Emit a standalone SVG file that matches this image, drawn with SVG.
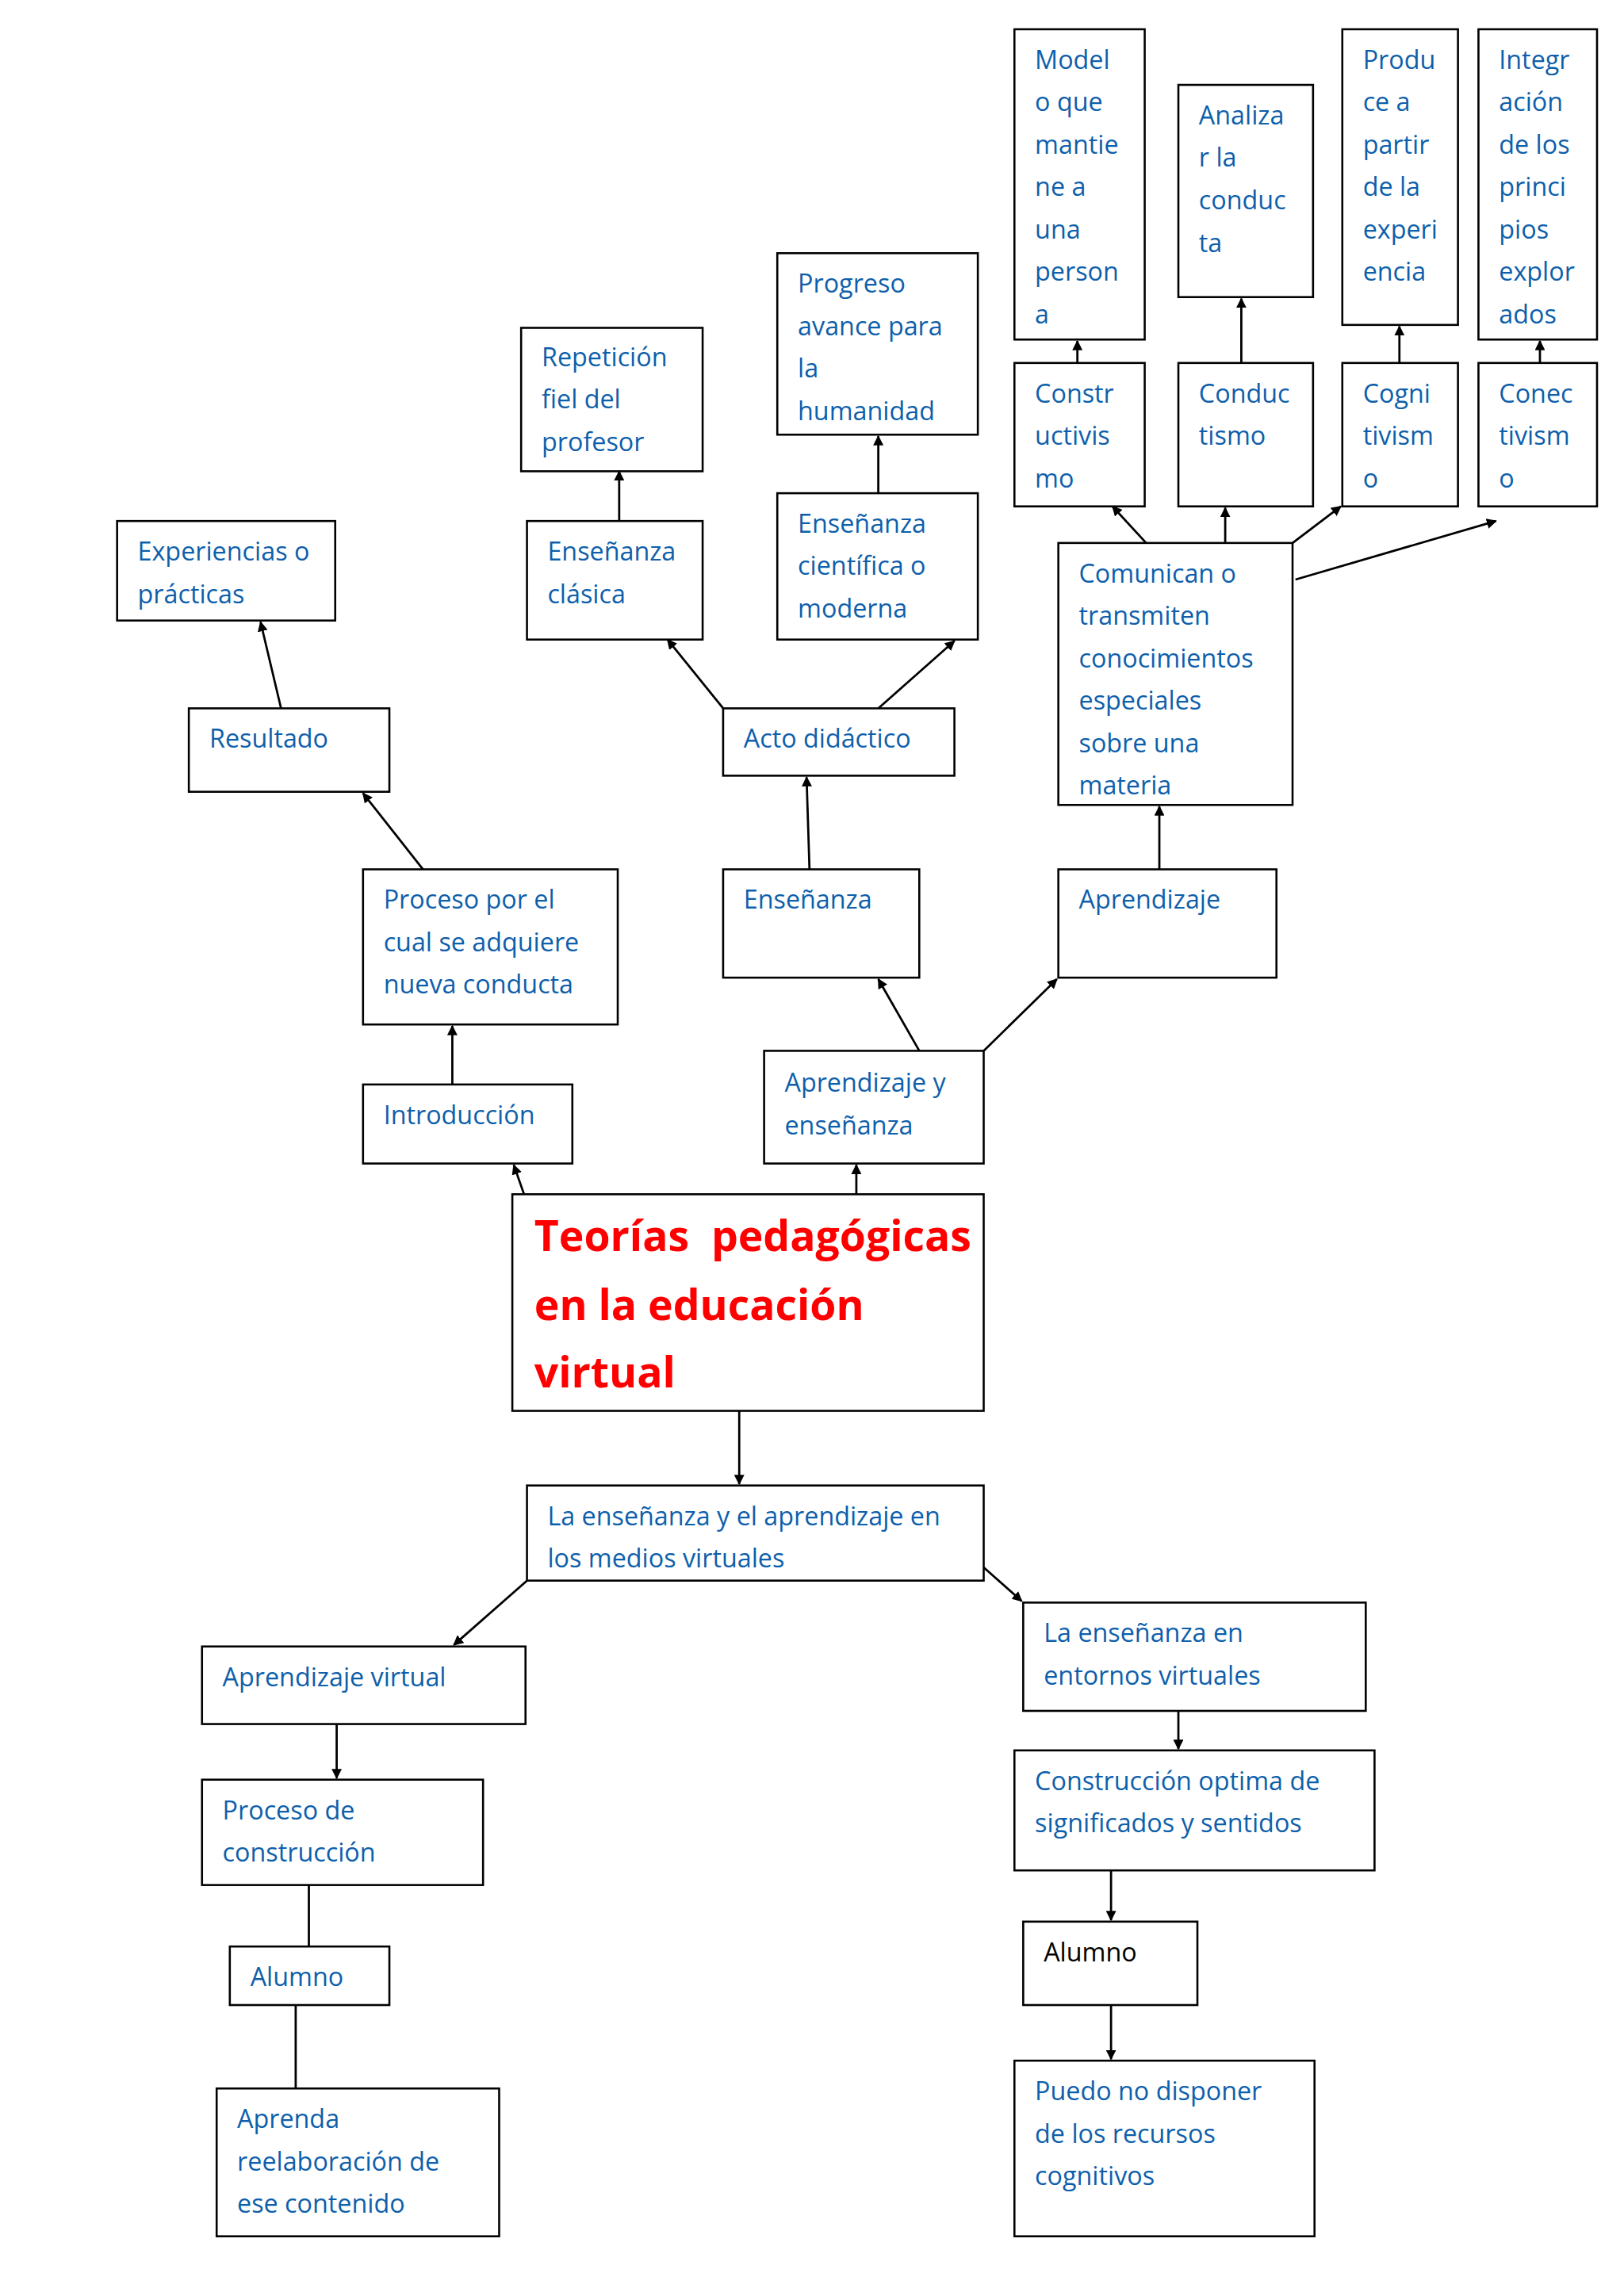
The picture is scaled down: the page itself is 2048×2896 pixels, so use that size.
<svg xmlns="http://www.w3.org/2000/svg" width="2048" height="2896" viewBox="0 0 2048 2896">
<defs>
<marker id="a" viewBox="0 0 10 10" refX="9" refY="5" markerWidth="7" markerHeight="7" markerUnits="userSpaceOnUse" orient="auto"><path d="M0,0L10,5L0,10z" fill="#000"/></marker>
<style>
rect{fill:#fff;stroke:#000;stroke-width:1.4}
text{font-family:"Open Sans","Liberation Sans",sans-serif;font-size:17.5px;fill:#0e5fab}
.t{font-size:29px;font-weight:bold;fill:#f00}
.k{fill:#000}
#c line{stroke:#000;stroke-width:1.5;marker-end:url(#a)}
</style>
</defs>
<rect x="0" y="0" width="2048" height="2896" style="stroke:none"/>
<g transform="scale(1.846)">
<g id="c">
<line x1="736" y1="248" x2="736" y2="233"/>
<line x1="848" y1="248" x2="848" y2="204"/>
<line x1="956" y1="248" x2="956" y2="223"/>
<line x1="1052" y1="248" x2="1052" y2="233"/>
<line x1="783" y1="371" x2="760" y2="346"/>
<line x1="837" y1="371" x2="837" y2="347"/>
<line x1="883" y1="371" x2="916" y2="346"/>
<line x1="885" y1="396" x2="1022" y2="356"/>
<line x1="600" y1="337" x2="600" y2="298"/>
<line x1="494" y1="484" x2="456" y2="437"/>
<line x1="600" y1="484" x2="652" y2="438"/>
<line x1="423" y1="356" x2="423" y2="322"/>
<line x1="192" y1="484" x2="178" y2="425"/>
<line x1="289" y1="594" x2="248" y2="542"/>
<line x1="553" y1="594" x2="551" y2="531"/>
<line x1="792" y1="594" x2="792" y2="551"/>
<line x1="309" y1="741" x2="309" y2="701"/>
<line x1="628" y1="718" x2="600" y2="669"/>
<line x1="672" y1="718" x2="722" y2="669"/>
<line x1="358" y1="816" x2="351" y2="796"/>
<line x1="585" y1="816" x2="585" y2="796"/>
<line x1="505" y1="964" x2="505" y2="1014"/>
<line x1="360" y1="1080" x2="310" y2="1124"/>
<line x1="672" y1="1071" x2="698" y2="1094"/>
<line x1="230" y1="1178" x2="230" y2="1215"/>
<line x1="211" y1="1288" x2="211" y2="1338"/>
<line x1="202" y1="1370" x2="202" y2="1440"/>
<line x1="805" y1="1169" x2="805" y2="1195"/>
<line x1="759" y1="1278" x2="759" y2="1312"/>
<line x1="759" y1="1370" x2="759" y2="1407"/>
</g>
<g id="model"><rect x="693" y="20" width="89" height="212"/><text x="707" y="47">Model<tspan x="707" dy="29">o que</tspan><tspan x="707" dy="29">mantie</tspan><tspan x="707" dy="29">ne a</tspan><tspan x="707" dy="29">una</tspan><tspan x="707" dy="29">person</tspan><tspan x="707" dy="29">a</tspan></text></g>
<g id="analiza"><rect x="805" y="58" width="92" height="145"/><text x="819" y="85">Analiza<tspan x="819" dy="29">r la</tspan><tspan x="819" dy="29">conduc</tspan><tspan x="819" dy="29">ta</tspan></text></g>
<g id="produce"><rect x="917" y="20" width="79" height="202"/><text x="931" y="47">Produ<tspan x="931" dy="29">ce a</tspan><tspan x="931" dy="29">partir</tspan><tspan x="931" dy="29">de la</tspan><tspan x="931" dy="29">experi</tspan><tspan x="931" dy="29">encia</tspan></text></g>
<g id="integr"><rect x="1010" y="20" width="81" height="212"/><text x="1024" y="47">Integr<tspan x="1024" dy="29">ación</tspan><tspan x="1024" dy="29">de los</tspan><tspan x="1024" dy="29">princi</tspan><tspan x="1024" dy="29">pios</tspan><tspan x="1024" dy="29">explor</tspan><tspan x="1024" dy="29">ados</tspan></text></g>
<g id="constr"><rect x="693" y="248" width="89" height="98"/><text x="707" y="275">Constr<tspan x="707" dy="29">uctivis</tspan><tspan x="707" dy="29">mo</tspan></text></g>
<g id="conduc"><rect x="805" y="248" width="92" height="98"/><text x="819" y="275">Conduc<tspan x="819" dy="29">tismo</tspan></text></g>
<g id="cogni"><rect x="917" y="248" width="79" height="98"/><text x="931" y="275">Cogni<tspan x="931" dy="29">tivism</tspan><tspan x="931" dy="29">o</tspan></text></g>
<g id="conec"><rect x="1010" y="248" width="81" height="98"/><text x="1024" y="275">Conec<tspan x="1024" dy="29">tivism</tspan><tspan x="1024" dy="29">o</tspan></text></g>
<g id="comunican"><rect x="723" y="371" width="160" height="179"/><text x="737" y="398">Comunican o<tspan x="737" dy="29">transmiten</tspan><tspan x="737" dy="29">conocimientos</tspan><tspan x="737" dy="29">especiales</tspan><tspan x="737" dy="29">sobre una</tspan><tspan x="737" dy="29">materia</tspan></text></g>
<g id="progreso"><rect x="531" y="173" width="137" height="124"/><text x="545" y="200">Progreso<tspan x="545" dy="29">avance para</tspan><tspan x="545" dy="29">la</tspan><tspan x="545" dy="29">humanidad</tspan></text></g>
<g id="cientifica"><rect x="531" y="337" width="137" height="100"/><text x="545" y="364">Enseñanza<tspan x="545" dy="29">científica o</tspan><tspan x="545" dy="29">moderna</tspan></text></g>
<g id="repeticion"><rect x="356" y="224" width="124" height="98"/><text x="370" y="250">Repetición<tspan x="370" dy="29">fiel del</tspan><tspan x="370" dy="29">profesor</tspan></text></g>
<g id="clasica"><rect x="360" y="356" width="120" height="81"/><text x="374" y="383">Enseñanza<tspan x="374" dy="29">clásica</tspan></text></g>
<g id="experiencias"><rect x="80" y="356" width="149" height="68"/><text x="94" y="383">Experiencias o<tspan x="94" dy="29">prácticas</tspan></text></g>
<g id="resultado"><rect x="129" y="484" width="137" height="57"/><text x="143" y="511">Resultado</text></g>
<g id="acto"><rect x="494" y="484" width="158" height="46"/><text x="508" y="511">Acto didáctico</text></g>
<g id="proceso"><rect x="248" y="594" width="174" height="106"/><text x="262" y="621">Proceso por el<tspan x="262" dy="29">cual se adquiere</tspan><tspan x="262" dy="29">nueva conducta</tspan></text></g>
<g id="ensenanza"><rect x="494" y="594" width="134" height="74"/><text x="508" y="621">Enseñanza</text></g>
<g id="aprendizaje"><rect x="723" y="594" width="149" height="74"/><text x="737" y="621">Aprendizaje</text></g>
<g id="introduccion"><rect x="248" y="741" width="143" height="54"/><text x="262" y="768">Introducción</text></g>
<g id="aye"><rect x="522" y="718" width="150" height="77"/><text x="536" y="746">Aprendizaje y<tspan x="536" dy="29">enseñanza</tspan></text></g>
<g id="title"><rect x="350" y="816" width="322" height="148"/><text class="t" x="365" y="855" xml:space="preserve">Teorías  pedagógicas<tspan x="365" dy="47">en la educación</tspan><tspan x="365" dy="46">virtual</tspan></text></g>
<g id="medios"><rect x="360" y="1015" width="312" height="65"/><text x="374" y="1042">La enseñanza y el aprendizaje en<tspan x="374" dy="29">los medios virtuales</tspan></text></g>
<g id="av"><rect x="138" y="1125" width="221" height="53"/><text x="152" y="1152">Aprendizaje virtual</text></g>
<g id="entornos"><rect x="699" y="1095" width="234" height="74"/><text x="713" y="1122">La enseñanza en<tspan x="713" dy="29">entornos virtuales</tspan></text></g>
<g id="pconstr"><rect x="138" y="1216" width="192" height="72"/><text x="152" y="1243">Proceso de<tspan x="152" dy="29">construcción</tspan></text></g>
<g id="optima"><rect x="693" y="1196" width="246" height="82"/><text x="707" y="1223">Construcción optima de<tspan x="707" dy="29">significados y sentidos</tspan></text></g>
<g id="alumno1"><rect x="157" y="1330" width="109" height="40"/><text x="171" y="1357">Alumno</text></g>
<g id="alumno2"><rect x="699" y="1313" width="119" height="57"/><text class="k" x="713" y="1340">Alumno</text></g>
<g id="aprenda"><rect x="148" y="1427" width="193" height="101"/><text x="162" y="1454">Aprenda<tspan x="162" dy="29">reelaboración de</tspan><tspan x="162" dy="29">ese contenido</tspan></text></g>
<g id="puedo"><rect x="693" y="1408" width="205" height="120"/><text x="707" y="1435">Puedo no disponer<tspan x="707" dy="29">de los recursos</tspan><tspan x="707" dy="29">cognitivos</tspan></text></g>
</g>
</svg>
